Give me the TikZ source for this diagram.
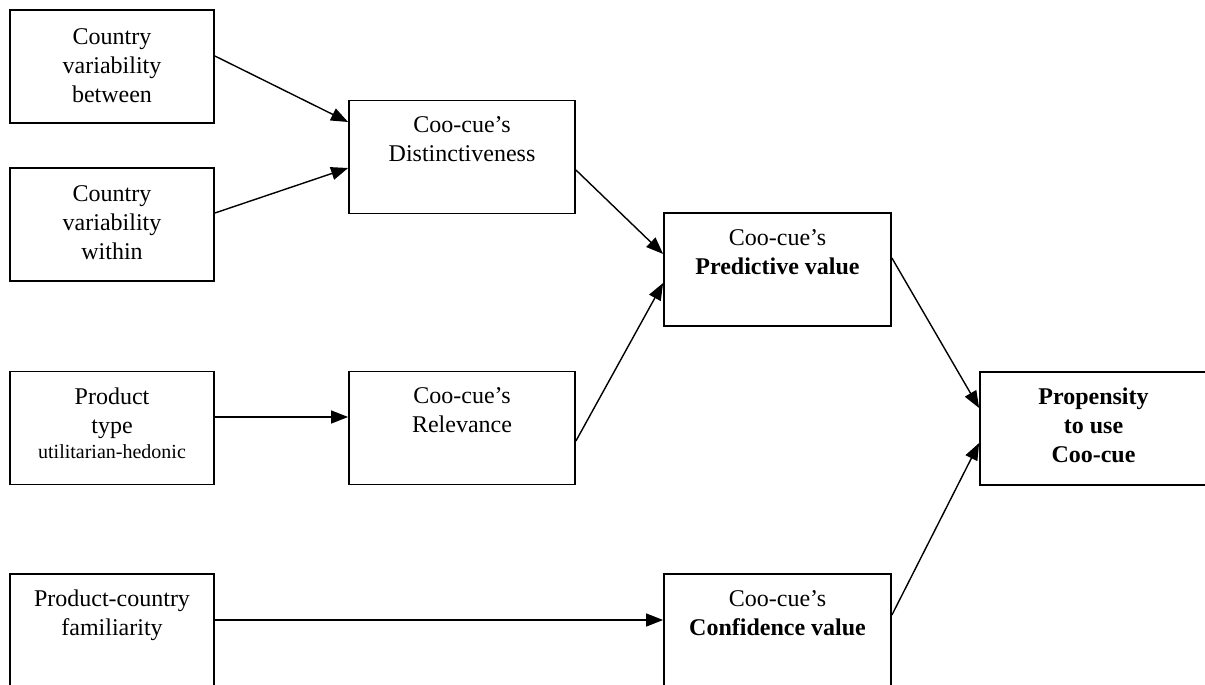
\documentclass[tikz,border=0pt]{standalone}
\usepackage{fontspec}
\setmainfont{Liberation Serif}
\usetikzlibrary{arrows.meta}

\begin{document}
\begin{tikzpicture}[x=1pt,y=-1pt,
  box/.style={draw=black, line width=1.8pt, rectangle, inner sep=0pt,
              minimum width=#1, minimum height=113pt},
  box/.default=204pt,
  txt/.style={anchor=north, inner sep=0pt, align=center,
              font=\fontsize{24}{29}\selectfont},
  arr/.style={draw=black, line width=1.4pt,
              -{Triangle[length=17pt,width=13pt]}}
]
\useasboundingbox[fill=white] (0,0) rectangle (1205,685);

% boxes
\node[box] (b1) at (112,66.5) {};
\node[box] (b2) at (112,224.5) {};
\node[box=226pt] (b3) at (462,157) {};
\node[box=227pt] (b4) at (777.5,269.5) {};
\node[box] (b5) at (112,428) {};
\node[box=226pt] (b6) at (462,428) {};
\node[box=227pt] (b7) at (1093.5,428.5) {};
\node[box] (b8) at (112,630.5) {};
\node[box=227pt] (b9) at (777.5,630.5) {};

% labels
\node[txt] (t1) at ([yshift=-19.5pt]b1.north) {Country\\variability\\between};
\node[txt] (t2) at ([yshift=-18pt]b2.north) {Country\\variability\\within};
\node[txt] (t3) at ([yshift=-17pt]b3.north) {Coo-cue’s\\Distinctiveness};
\node[txt] (t4) at ([yshift=-17pt]b4.north) {Coo-cue’s\\\textbf{Predictive value}};
\node[txt] (t5) at ([yshift=-17pt]b5.north) {Product\\type\\[-4pt]{\fontsize{20}{24}\selectfont utilitarian-hedonic}};
\node[txt] (t6) at ([yshift=-17pt]b6.north) {Coo-cue’s\\Relevance};
\node[txt] (t7) at ([yshift=-17pt]b7.north) {\textbf{Propensity}\\\textbf{to use}\\\textbf{Coo-cue}};
\node[txt] (t8) at ([yshift=-17pt]b8.north) {Product-country\\familiarity};
\node[txt] (t9) at ([yshift=-17pt]b9.north) {Coo-cue’s\\\textbf{Confidence value}};

% connectors
\draw[arr] ([yshift=10.5pt]b1.east) -- ([yshift=35pt]b3.west);
\draw[arr] ([yshift=11.5pt]b2.east) -- ([yshift=-11pt]b3.west);
\draw[arr] ([yshift=-13pt]b3.east) -- ([yshift=15.5pt]b4.west);
\draw[arr] ([yshift=-13pt]b6.east) -- ([yshift=-13.5pt]b4.west);
\draw[arr] ([yshift=11pt]b5.east) -- ([yshift=11pt]b6.west);
\draw[arr] ([yshift=11.5pt]b4.east) -- ([yshift=20.5pt]b7.west);
\draw[arr] ([yshift=15.5pt]b9.east) -- ([yshift=-14.5pt]b7.west);
\draw[arr] ([yshift=10.5pt]b8.east) -- ([yshift=10.5pt]b9.west);
\end{tikzpicture}
\end{document}
